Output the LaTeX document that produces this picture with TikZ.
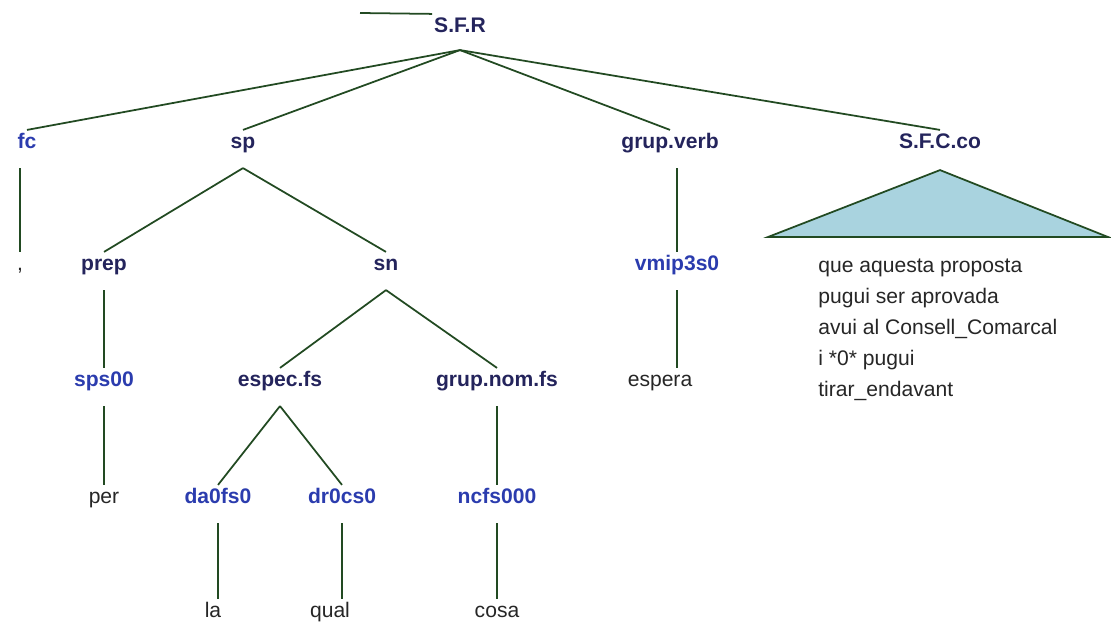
\documentclass[tikz,border=0pt]{standalone}
\usepackage{fontspec}
\setmainfont{Liberation Sans}
\usetikzlibrary{calc}
\definecolor{catclr}{HTML}{24245C}
\definecolor{tagclr}{HTML}{2B3CAE}
\definecolor{wordclr}{HTML}{262626}
\definecolor{lineclr}{HTML}{224A22}
\definecolor{trifill}{HTML}{A9D3DF}

\begin{document}
\begin{tikzpicture}[
  x=0.02cm, y=-0.02cm,
  font=\fontsize{12}{14}\selectfont,
  lbl/.style={inner xsep=1pt, inner ysep=1.5pt, text height=9pt, text depth=2.5pt},
  cat/.style={lbl, font=\fontsize{12}{14}\selectfont\bfseries, text=catclr},
  tag/.style={lbl, font=\fontsize{12}{14}\selectfont\bfseries, text=tagclr},
  word/.style={lbl, text=wordclr},
  block/.style={align=left, anchor=north west, inner sep=0pt,
    font=\fontsize{12}{17.6}\selectfont, text=wordclr},
  branch/.style={draw=lineclr, line width=1pt},
]
  \useasboundingbox (0,0) rectangle (1111,625);

  % Root
  \node[cat] (sfr) at (460,27) {S.F.R};
  \coordinate (stray) at (360,13);
  \draw[branch] (stray) -- (sfr.north west);

  % First level
  \node[tag] (fc) at (27,143) {fc};
  \node[cat] (sp) at (243,143) {sp};
  \node[cat] (gverb) at (670,143) {grup.verb};
  \node[cat] (sfc) at (940,143) {S.F.C.co};

  \draw[branch] ($(sfr.south)+(0,10)$) -- (fc.north);
  \draw[branch] ($(sfr.south)+(0,10)$) -- (sp.north);
  \draw[branch] ($(sfr.south)+(0,10)$) -- (gverb.north);
  \draw[branch] ($(sfr.south)+(0,10)$) -- (sfc.north);

  % fc
  \node[word] (comma) at (20,265) {,};
  \draw[branch] ($(comma.north |- fc.south)+(0,12)$) -- (comma.north);

  % sp
  \node[cat] (prep) at (104,265) {prep};
  \node[cat] (sn) at (386,265) {sn};
  \draw[branch] ($(sp.south)+(0,12)$) -- (prep.north);
  \draw[branch] ($(sp.south)+(0,12)$) -- (sn.north);

  \node[tag] (sps) at (104,381) {sps00};
  \node[word] (per) at (104,498) {per};
  \draw[branch] ($(prep.south)+(0,12)$) -- (prep.south |- sps.north);
  \draw[branch] ($(sps.south)+(0,12)$) -- (sps.south |- per.north);

  % sn
  \node[cat] (espec) at (280,381) {espec.fs};
  \node[cat] (gnom) at (497,381) {grup.nom.fs};
  \draw[branch] ($(sn.south)+(0,12)$) -- (espec.north);
  \draw[branch] ($(sn.south)+(0,12)$) -- (gnom.north);

  \node[tag] (da) at (218,498) {da0fs0};
  \node[tag] (dr) at (342,498) {dr0cs0};
  \node[tag] (ncfs) at (497,498) {ncfs000};
  \draw[branch] ($(espec.south)+(0,12)$) -- (da.north);
  \draw[branch] ($(espec.south)+(0,12)$) -- (dr.north);
  \draw[branch] ($(gnom.south)+(0,12)$) -- (gnom.south |- ncfs.north);

  \node[word] (la) at (213,612) {la};
  \node[word] (qual) at (330,612) {qual};
  \node[word] (cosa) at (497,612) {cosa};
  \draw[branch] ($(da.south)+(0,12)$) -- (da.south |- la.north);
  \draw[branch] ($(dr.south)+(0,12)$) -- (dr.south |- qual.north);
  \draw[branch] ($(ncfs.south)+(0,12)$) -- (ncfs.south |- cosa.north);

  % grup.verb
  \node[tag] (vmip) at (677,265) {vmip3s0};
  \node[word] (espera) at (660,381) {espera};
  \draw[branch] ($(vmip.north |- gverb.south)+(0,12)$) -- (vmip.north);
  \draw[branch] ($(vmip.south)+(0,12)$) -- (vmip.south |- espera.north);

  % S.F.C.co (collapsed)
  \coordinate (trileft) at (768,237);
  \coordinate (triright) at (1108,237);
  \filldraw[branch, fill=trifill]
    ($(sfc.south)+(0,14)$) -- (trileft) -- (triright) -- cycle;
  \node[block] (sfctext) at (818,259) {que aquesta proposta\\
    pugui ser aprovada\\
    avui al Consell\_Comarcal\\
    i *0* pugui\\
    tirar\_endavant};
\end{tikzpicture}
\end{document}
